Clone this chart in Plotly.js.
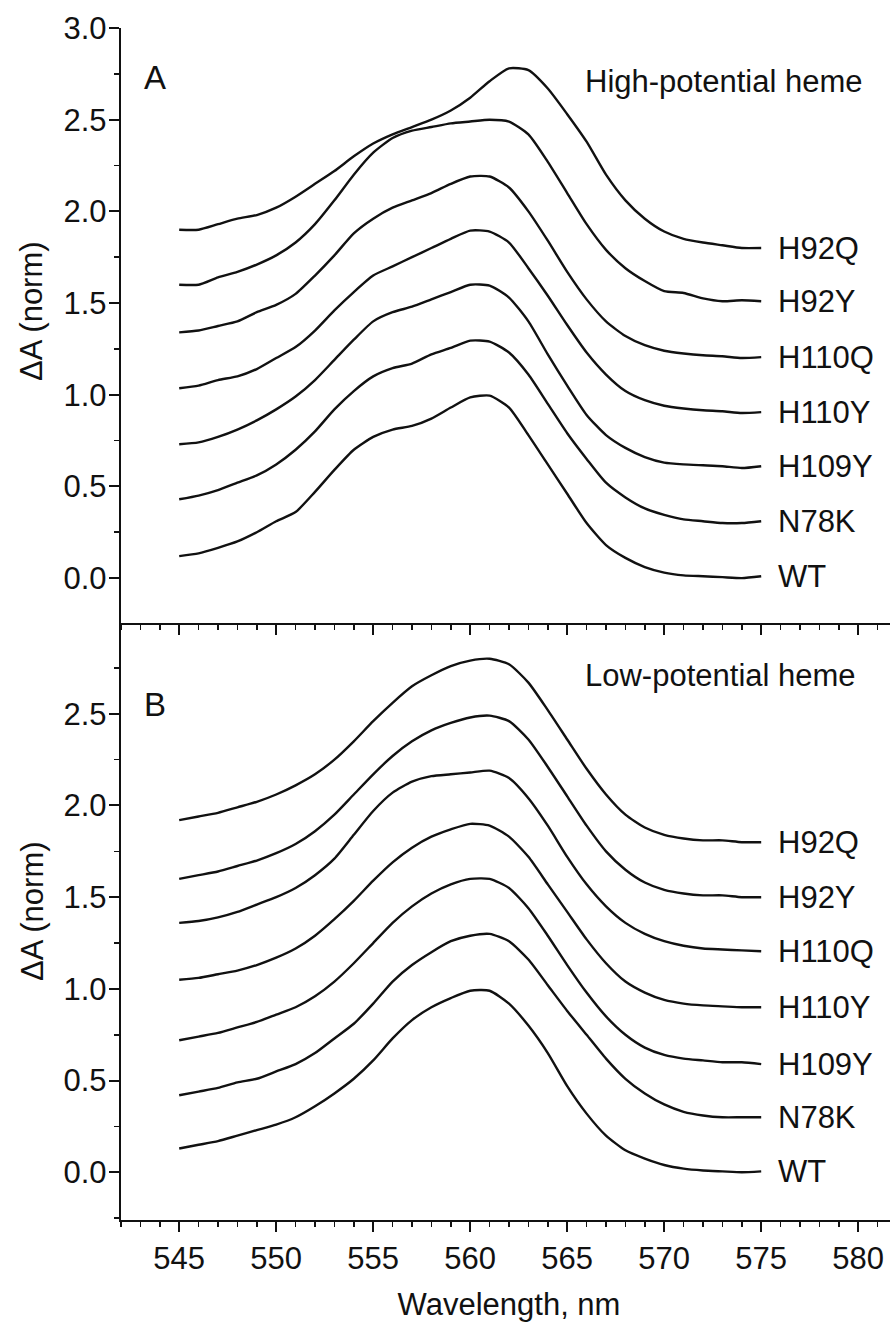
<!DOCTYPE html>
<html>
<head>
<meta charset="utf-8">
<script src="https://cdn.plot.ly/plotly-3.0.1.min.js"></script>
<style>
  html, body { margin: 0; padding: 0; background: #fff; overflow: hidden; }
  #chart { width: 905px; height: 1323px; }
</style>
</head>
<body>
<div id="chart"></div>
<script>
// Wavelength grid (nm)
const wavelength = [545,546,547,548,549,550,551,552,553,554,555,556,557,558,559,560,
                    561,562,563,564,565,566,567,568,569,570,571,572,573,574,575];

// Series names (bottom to top)
const seriesNames = ['WT','N78K','H109Y','H110Y','H110Q','H92Y','H92Q'];

// Panel A: High-potential heme (normalized, offset)
const highWT    = [0.12,0.135,0.165,0.2,0.25,0.31,0.36,0.47,0.59,0.70,0.77,0.81,0.83,0.87,0.93,0.985,0.995,0.93,0.78,0.62,0.46,0.30,0.18,0.11,0.06,0.03,0.015,0.01,0.005,0.0,0.01];
const highN78K  = [0.43,0.45,0.48,0.52,0.56,0.62,0.70,0.80,0.92,1.02,1.10,1.145,1.17,1.22,1.255,1.295,1.29,1.23,1.11,0.95,0.79,0.65,0.52,0.44,0.38,0.345,0.32,0.31,0.30,0.30,0.31];
const highH109Y = [0.73,0.74,0.77,0.81,0.86,0.92,0.99,1.08,1.19,1.30,1.40,1.45,1.48,1.52,1.56,1.60,1.595,1.53,1.40,1.22,1.05,0.89,0.78,0.71,0.66,0.63,0.62,0.615,0.61,0.60,0.61];
const highH110Y = [1.035,1.05,1.08,1.10,1.14,1.20,1.26,1.35,1.46,1.56,1.65,1.70,1.75,1.80,1.85,1.895,1.89,1.83,1.69,1.54,1.38,1.23,1.11,1.02,0.97,0.94,0.925,0.915,0.91,0.90,0.905];
const highH110Q = [1.34,1.35,1.375,1.40,1.45,1.49,1.55,1.65,1.76,1.88,1.96,2.02,2.06,2.10,2.15,2.19,2.19,2.13,2.00,1.84,1.67,1.52,1.40,1.32,1.27,1.24,1.225,1.215,1.21,1.20,1.205];
const highH92Y  = [1.60,1.60,1.64,1.67,1.71,1.76,1.83,1.93,2.06,2.20,2.32,2.40,2.44,2.46,2.48,2.49,2.50,2.49,2.42,2.27,2.10,1.93,1.79,1.69,1.62,1.565,1.555,1.525,1.51,1.515,1.51];
const highH92Q  = [1.90,1.90,1.93,1.96,1.98,2.02,2.08,2.15,2.22,2.30,2.37,2.42,2.46,2.50,2.55,2.62,2.71,2.78,2.77,2.67,2.53,2.38,2.20,2.06,1.96,1.89,1.85,1.83,1.815,1.80,1.80];

// Panel B: Low-potential heme (normalized, offset)
const lowWT    = [0.13,0.15,0.17,0.20,0.23,0.26,0.30,0.36,0.43,0.51,0.61,0.73,0.83,0.90,0.95,0.99,0.99,0.92,0.80,0.65,0.47,0.32,0.20,0.12,0.075,0.04,0.02,0.01,0.005,0.0,0.005];
const lowN78K  = [0.42,0.44,0.46,0.49,0.51,0.55,0.59,0.65,0.73,0.81,0.92,1.04,1.13,1.20,1.26,1.29,1.30,1.26,1.16,1.02,0.88,0.75,0.62,0.51,0.43,0.37,0.33,0.31,0.30,0.30,0.30];
const lowH109Y = [0.72,0.74,0.76,0.79,0.82,0.86,0.90,0.96,1.04,1.14,1.25,1.36,1.45,1.52,1.57,1.60,1.60,1.55,1.44,1.29,1.13,0.98,0.85,0.75,0.68,0.64,0.62,0.61,0.60,0.60,0.59];
const lowH110Y = [1.05,1.06,1.08,1.10,1.13,1.17,1.22,1.29,1.38,1.48,1.59,1.69,1.77,1.83,1.87,1.90,1.89,1.83,1.72,1.57,1.42,1.27,1.14,1.04,0.98,0.94,0.92,0.91,0.905,0.90,0.90];
const lowH110Q = [1.36,1.37,1.39,1.42,1.46,1.50,1.55,1.62,1.71,1.84,1.97,2.07,2.13,2.16,2.17,2.18,2.19,2.15,2.04,1.89,1.72,1.57,1.45,1.36,1.30,1.26,1.235,1.22,1.215,1.21,1.205];
const lowH92Y  = [1.60,1.62,1.64,1.67,1.70,1.74,1.79,1.86,1.95,2.06,2.17,2.27,2.35,2.41,2.45,2.48,2.49,2.46,2.36,2.21,2.05,1.89,1.75,1.65,1.58,1.54,1.52,1.51,1.51,1.50,1.50];
const lowH92Q  = [1.92,1.94,1.96,1.99,2.02,2.06,2.11,2.17,2.25,2.35,2.46,2.56,2.65,2.71,2.76,2.79,2.80,2.77,2.67,2.52,2.36,2.20,2.06,1.95,1.88,1.84,1.82,1.81,1.81,1.80,1.80];

const highSeries = [highWT, highN78K, highH109Y, highH110Y, highH110Q, highH92Y, highH92Q];
const lowSeries  = [lowWT, lowN78K, lowH109Y, lowH110Y, lowH110Q, lowH92Y, lowH92Q];

const panelTitles = ['High-potential heme', 'Low-potential heme'];
const panelLetters = ['A', 'B'];
const xTitle = 'Wavelength, nm';
const yTitle = 'ΔA (norm)';

const INK = '#111';
const FONT = '"Liberation Sans", Arial, Helvetica, sans-serif';

const traces = [];
function addPanel(series, xa, ya) {
  series.forEach((ys, i) => {
    traces.push({
      type: 'scatter', mode: 'lines', name: seriesNames[i],
      x: wavelength, y: ys, xaxis: xa, yaxis: ya,
      line: { color: INK, width: 2.4, shape: 'spline', smoothing: 0.6 },
      hoverinfo: 'skip'
    });
  });
}
addPanel(highSeries, 'x2', 'y');
addPanel(lowSeries, 'x', 'y2');

const annotations = [];
const lastIdx = wavelength.length - 1;
function addLabels(series, xref, yref) {
  series.forEach((ys, i) => {
    annotations.push({
      x: wavelength[lastIdx] + 0.75, y: ys[lastIdx], xref: xref, yref: yref,
      text: seriesNames[i], showarrow: false, xanchor: 'left', yanchor: 'middle',
      font: { family: FONT, size: 31, color: INK }
    });
  });
}
addLabels(highSeries, 'x2', 'y');
addLabels(lowSeries, 'x', 'y2');

annotations.push(
  { x: 543.1, y: 2.73, xref: 'x2', yref: 'y', text: panelLetters[0], showarrow: false,
    xanchor: 'left', yanchor: 'middle', font: { family: FONT, size: 33, color: INK } },
  { x: 543.1, y: 2.55, xref: 'x', yref: 'y2', text: panelLetters[1], showarrow: false,
    xanchor: 'left', yanchor: 'middle', font: { family: FONT, size: 33, color: INK } },
  { x: 565.8, y: 2.71, xref: 'x2', yref: 'y', text: panelTitles[0], showarrow: false,
    xanchor: 'left', yanchor: 'middle', font: { family: FONT, size: 31, color: INK } },
  { x: 565.8, y: 2.71, xref: 'x', yref: 'y2', text: panelTitles[1], showarrow: false,
    xanchor: 'left', yanchor: 'middle', font: { family: FONT, size: 31, color: INK } },
  // y-axis titles (one per panel)
  { x: -0.1147, y: 0.7626, xref: 'paper', yref: 'paper', text: yTitle, textangle: -90, showarrow: false,
    xanchor: 'center', yanchor: 'middle', font: { family: FONT, size: 31, color: INK } },
  { x: -0.1147, y: 0.2592, xref: 'paper', yref: 'paper', text: yTitle, textangle: -90, showarrow: false,
    xanchor: 'center', yanchor: 'middle', font: { family: FONT, size: 31, color: INK } }
);

const xRange = [542, 582];
const yRangeA = [-0.245, 3.0];
const yRangeB = [-0.26, 2.995];
const split = 0.50084;

function xBase(extra) {
  return Object.assign({
    range: xRange, tickmode: 'linear', tick0: 545, dtick: 5,
    ticks: 'outside', ticklen: 10, tickwidth: 2, tickcolor: INK,
    showline: true, linewidth: 2.2, linecolor: INK,
    showgrid: false, zeroline: false, fixedrange: true,
    minor: { tick0: 542, dtick: 1, ticks: 'outside', ticklen: 5, tickwidth: 1.6, tickcolor: INK, showgrid: false },
    tickfont: { family: FONT, size: 31, color: INK }
  }, extra);
}
function yBase(extra) {
  return Object.assign({
    tickmode: 'linear', tick0: 0, dtick: 0.5, tickformat: '.1f',
    ticks: 'outside', ticklen: 10, tickwidth: 2, tickcolor: INK,
    showline: true, linewidth: 2.2, linecolor: INK,
    showgrid: false, zeroline: false, fixedrange: true, ticklabelstandoff: -4,
    minor: { tick0: 0, dtick: 0.25, ticks: 'outside', ticklen: 5, tickwidth: 1.6, tickcolor: INK, showgrid: false },
    tickfont: { family: FONT, size: 31, color: INK }
  }, extra);
}

const layout = {
  width: 905, height: 1323,
  margin: { l: 121, r: 8, t: 28, b: 103 },
  paper_bgcolor: '#fff', plot_bgcolor: '#fff',
  showlegend: false,
  font: { family: FONT, color: INK, size: 30 },
  xaxis: xBase({ anchor: 'y2', domain: [0, 1],
    title: { text: xTitle, font: { family: FONT, size: 31, color: INK }, standoff: 18 } }),
  xaxis2: xBase({ anchor: 'y', domain: [0, 1], showticklabels: false }),
  xaxis3: xBase({ overlaying: 'x2', anchor: 'y', side: 'top', ticks: 'inside', showticklabels: false,
    minor: { tick0: 542, dtick: 1, ticks: 'inside', ticklen: 5, tickwidth: 1.6, tickcolor: INK } }),
  yaxis: yBase({ anchor: 'x2', domain: [split, 1], range: yRangeA }),
  yaxis2: yBase({ anchor: 'x', domain: [0, split], range: yRangeB }),
  yaxis3: yBase({ overlaying: 'y', anchor: 'x2', side: 'right', range: yRangeA, ticks: 'inside', showticklabels: false,
    minor: { tick0: 0, dtick: 0.25, ticks: 'inside', ticklen: 5, tickwidth: 1.6, tickcolor: INK } }),
  yaxis4: yBase({ overlaying: 'y2', anchor: 'x', side: 'right', range: yRangeB, ticks: 'inside', showticklabels: false,
    minor: { tick0: 0, dtick: 0.25, ticks: 'inside', ticklen: 5, tickwidth: 1.6, tickcolor: INK } }),
  annotations: annotations
};

Plotly.newPlot('chart', traces, layout, { staticPlot: true, displayModeBar: false });
</script>
</body>
</html>
